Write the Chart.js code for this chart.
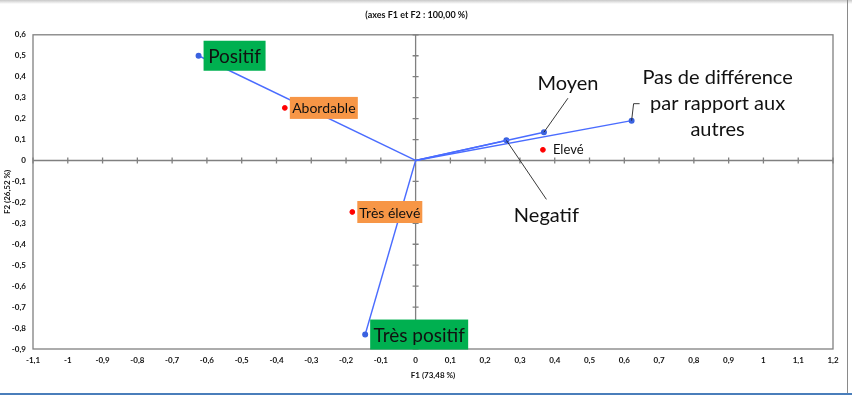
<!DOCTYPE html>
<html>
<head>
<meta charset="utf-8">
<script src="https://cdn.jsdelivr.net/npm/chart.js@4/dist/chart.umd.min.js"></script>
<style>
  body { margin: 0; background: #fff; }
  #wrap { position: relative; width: 852px; height: 395px; }
  #topShade { position: absolute; left: 0; top: 0; width: 852px; height: 4px; background: linear-gradient(#c8c8c8, #fff); }
  #rightLine { position: absolute; left: 847px; top: 0; width: 1px; height: 393px; background: #8a8a8a; }
  #bottomLine { position: absolute; left: 0; top: 393px; width: 852px; height: 2px; background: #4a7ebb; }
</style>
</head>
<body>
<div id="wrap">
  <canvas id="biplot" width="852" height="395"></canvas>
  <div id="topShade"></div>
  <div id="rightLine"></div>
  <div id="bottomLine"></div>
</div>
<script>
// Variables (vecteurs) - coordonnées F1 / F2
const vecLabels = ['Positif', 'Moyen', 'Pas de différence par rapport aux autres', 'Negatif', 'Très positif'];
const vecF1 = [-0.624, 0.369, 0.621, 0.261, -0.145];
const vecF2 = [0.50, 0.135, 0.19, 0.096, -0.831];

// Observations (points rouges)
const obsLabels = ['Abordable', 'Elevé', 'Très élevé'];
const obsF1 = [-0.376, 0.366, -0.182];
const obsF2 = [0.251, 0.051, -0.246];

// Bornes des axes
const xRange = [-1.1, 1.2];
const yRange = [-0.9, 0.6];
const tickStep = 0.1;

const labelFont = 'Lato, "Open Sans", sans-serif';

// Style des étiquettes (décalages en pixels depuis le point)
const labelStyles = {
  'Positif': { box: '#00b050', dx: 5, dy: -15, w: 62, h: 30, size: 19 },
  'Très positif': { box: '#00b050', dx: 5, dy: -15, w: 98, h: 30, size: 19 },
  'Abordable': { box: '#f79646', dx: 5, dy: -11, w: 68, h: 22, size: 14 },
  'Très élevé': { box: '#f79646', dx: 5, dy: -11, w: 65, h: 22, size: 14 },
  'Elevé': { dx: 10, dy: 0, size: 13, align: 'left' },
  'Moyen': { dx: 24, dy: -49, size: 20, lead: [[24, -34]] },
  'Negatif': { dx: 40, dy: 75, size: 20, lead: [[40, 59]] },
  'Pas de différence par rapport aux autres': {
    dx: 86, dy: -17, size: 20,
    lines: ['Pas de différence', 'par rapport aux', 'autres'], lineGap: 26, firstDy: -43,
    lead: [[2, -17], [8, -17]]
  }
};

function fmtTick(v) {
  const r = Math.round(v * 10) / 10;
  return String(r).replace('.', ',');
}

const datasets = [];
vecLabels.forEach((name, i) => {
  datasets.push({
    label: name,
    data: [{ x: 0, y: 0 }, { x: vecF1[i], y: vecF2[i] }],
    showLine: true,
    borderColor: '#4a6cff',
    borderWidth: 1.4,
    pointRadius: [0, 2.3],
    pointBackgroundColor: '#3a62e0',
    pointBorderColor: '#3a62e0'
  });
});
datasets.push({
  label: 'obs',
  data: obsF1.map((x, i) => ({ x: x, y: obsF2[i] })),
  showLine: false,
  pointRadius: 2.4,
  pointBackgroundColor: '#ff0000',
  pointBorderColor: '#ff0000'
});

// Axes passant par l'origine + cadre
const zeroAxes = {
  id: 'zeroAxes',
  beforeDatasetsDraw(chart) {
    const { ctx, chartArea: a, scales } = chart;
    const x0 = scales.x.getPixelForValue(0);
    const y0 = scales.y.getPixelForValue(0);
    ctx.save();
    ctx.strokeStyle = '#808080';
    ctx.lineWidth = 1.3;
    ctx.strokeRect(a.left, a.top, a.right - a.left, a.bottom - a.top);
    ctx.beginPath();
    ctx.moveTo(a.left, y0); ctx.lineTo(a.right, y0);
    ctx.moveTo(x0, a.top); ctx.lineTo(x0, a.bottom);
    scales.x.ticks.forEach(t => {
      const px = scales.x.getPixelForValue(t.value);
      ctx.moveTo(px, y0 - 3); ctx.lineTo(px, y0 + 3);
    });
    scales.y.ticks.forEach(t => {
      const py = scales.y.getPixelForValue(t.value);
      ctx.moveTo(x0 - 3, py); ctx.lineTo(x0 + 3, py);
    });
    ctx.stroke();
    ctx.restore();
  }
};

function drawLabel(ctx, name, px, py) {
  const s = labelStyles[name];
  if (!s) return;
  ctx.save();
  if (s.lead) {
    ctx.strokeStyle = '#222';
    ctx.lineWidth = 0.9;
    ctx.beginPath();
    ctx.moveTo(px, py);
    s.lead.forEach(p => ctx.lineTo(px + p[0], py + p[1]));
    ctx.stroke();
  }
  ctx.font = s.size + 'px ' + labelFont;
  ctx.fillStyle = '#111';
  ctx.textBaseline = 'middle';
  if (s.box) {
    const bx = px + s.dx, by = py + s.dy;
    ctx.fillStyle = s.box;
    ctx.fillRect(bx, by, s.w, s.h);
    ctx.fillStyle = '#111';
    ctx.textAlign = 'center';
    ctx.fillText(name, bx + s.w / 2, by + s.h / 2 + 1);
  } else if (s.lines) {
    ctx.textAlign = 'center';
    s.lines.forEach((ln, k) => ctx.fillText(ln, px + s.dx, py + s.firstDy + k * s.lineGap));
  } else {
    ctx.textAlign = s.align || 'center';
    ctx.fillText(name, px + s.dx, py + s.dy);
  }
  ctx.restore();
}

const labelPlugin = {
  id: 'pointLabels',
  afterDatasetsDraw(chart) {
    const { ctx, scales } = chart;
    vecLabels.forEach((name, i) => {
      drawLabel(ctx, name, scales.x.getPixelForValue(vecF1[i]), scales.y.getPixelForValue(vecF2[i]));
    });
    obsLabels.forEach((name, i) => {
      drawLabel(ctx, name, scales.x.getPixelForValue(obsF1[i]), scales.y.getPixelForValue(obsF2[i]));
    });
  }
};

const tickFont = { family: labelFont, size: 8, weight: 'bold' };

new Chart(document.getElementById('biplot').getContext('2d'), {
  type: 'scatter',
  data: { datasets: datasets },
  options: {
    responsive: false,
    animation: false,
    layout: { padding: { left: 0, right: 19, top: 0, bottom: 11 } },
    plugins: {
      legend: { display: false },
      tooltip: { enabled: false },
      title: {
        display: true,
        text: '(axes F1 et F2 : 100,00 %)',
        color: '#111',
        font: { family: labelFont, size: 9, weight: 'bold' },
        padding: { top: 10, bottom: 14 }
      }
    },
    scales: {
      x: {
        min: xRange[0], max: xRange[1],
        grid: { display: false, drawTicks: false },
        border: { display: false },
        ticks: {
          stepSize: tickStep, autoSkip: false, maxRotation: 0, padding: 7,
          color: '#111', font: tickFont, callback: fmtTick
        },
        title: { display: true, text: 'F1 (73,48 %)', color: '#111', font: tickFont, padding: 4 },
        afterFit(scale) { scale.height = 35; }
      },
      y: {
        min: yRange[0], max: yRange[1],
        grid: { display: false, drawTicks: false },
        border: { display: false },
        ticks: {
          stepSize: tickStep, autoSkip: false, padding: 7,
          color: '#111', font: tickFont, callback: fmtTick
        },
        title: { display: true, text: 'F2 (26,52 %)', color: '#111', font: tickFont, padding: 3 },
        afterFit(scale) { scale.width = 33; }
      }
    }
  },
  plugins: [zeroAxes, labelPlugin]
});
</script>
</body>
</html>
